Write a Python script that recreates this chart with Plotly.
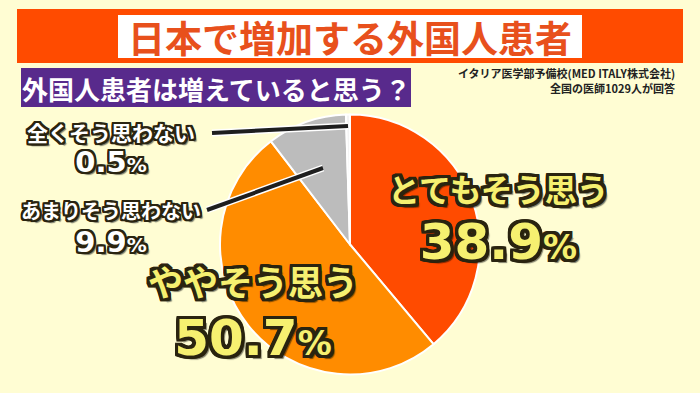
import plotly.graph_objects as go

# ---- data ----
categories = ["とてもそう思う", "ややそう思う", "あまりそう思わない", "全くそう思わない"]
values = [38.9, 50.7, 9.9, 0.5]
value_labels = ["38.9", "50.7", "9.9", "0.5"]
colors = ["#FF4B00", "#FF8C00", "#BCBCBC", "#F4F4F4"]

title_text = "日本で増加する外国人患者"
subtitle_text = "外国人患者は増えていると思う？"
source_lines = ["イタリア医学部予備校(MED ITALY株式会社)", "全国の医師1029人が回答"]

W, H = 700, 393
BG = "#FFFDD3"
FONT = "Noto Sans CJK JP"
NUMFONT = "DejaVu Sans"


def px(x):
    return x / W


def py(y):
    return 1 - y / H


def outline(c, w=2):
    offs = []
    for dx in range(-w, w + 1):
        for dy in range(-w, w + 1):
            if dx == 0 and dy == 0:
                continue
            offs.append(f"{dx}px {dy}px 0px {c}")
    offs.append(f"{w+1}px {w+1}px 1px rgba(0,0,0,0.5)")
    return ", ".join(offs)


fig = go.Figure()
fig.add_trace(go.Pie(
    labels=categories,
    values=values,
    sort=False,
    direction="clockwise",
    rotation=0,
    textinfo="none",
    hoverinfo="label+percent",
    marker=dict(colors=colors, line=dict(color="white", width=2)),
    domain=dict(x=[px(220), px(480)], y=[py(376), py(113)]),
    showlegend=False,
))

shapes = []
# title banner
shapes.append(dict(type="rect", xref="paper", yref="paper",
                   x0=px(17), x1=px(683), y0=py(63), y1=py(9),
                   fillcolor="#FF4B00", line=dict(width=0), layer="below"))
shapes.append(dict(type="rect", xref="paper", yref="paper",
                   x0=px(118), x1=px(582), y0=py(58), y1=py(15),
                   fillcolor="white", line=dict(width=0), layer="below"))
# subtitle box
shapes.append(dict(type="rect", xref="paper", yref="paper",
                   x0=px(21), x1=px(411), y0=py(107), y1=py(68),
                   fillcolor="#582A8C", line=dict(width=0), layer="below"))

# leader lines (white outline + dark core)
leaders = [((212, 133), (348, 126)), ((207, 210), (323, 168))]
for (x0, y0), (x1, y1) in leaders:
    shapes.append(dict(type="line", xref="paper", yref="paper",
                       x0=px(x0), y0=py(y0), x1=px(x1), y1=py(y1),
                       line=dict(color="white", width=7), layer="above"))
    shapes.append(dict(type="line", xref="paper", yref="paper",
                       x0=px(x0), y0=py(y0), x1=px(x1), y1=py(y1),
                       line=dict(color="#1E1E1E", width=4), layer="above"))

ann = []
ann.append(dict(text=title_text, x=px(350), y=py(37), xref="paper", yref="paper",
                showarrow=False, xanchor="center", yanchor="middle",
                font=dict(family=FONT, size=37, color="#E8501C", weight="bold")))
ann.append(dict(text=subtitle_text, x=px(216), y=py(88), xref="paper", yref="paper",
                showarrow=False, xanchor="center", yanchor="middle",
                font=dict(family=FONT, size=26, color="white", weight="bold")))
ann.append(dict(text=source_lines[0], x=px(677), y=py(73), xref="paper", yref="paper",
                showarrow=False, xanchor="right", yanchor="middle",
                font=dict(family=FONT, size=11, color="#222222", weight="bold")))
ann.append(dict(text=source_lines[1], x=px(677), y=py(88), xref="paper", yref="paper",
                showarrow=False, xanchor="right", yanchor="middle",
                font=dict(family=FONT, size=11, color="#222222", weight="bold")))

yellow = "#F6F070"
dark = "#2A2410"
# (category idx, x center, bottom y, base size, label size, number size, % size, colour)
blocks = [
    (0, 498, 273, 44, 32, 50, 34, yellow),
    (1, 253, 369, 45, 35, 50, 34, yellow),
    (3, 111, 181, 24, 21, 29, 20, "white"),
    (2, 111, 261, 25, 20, 29, 20, "white"),
]
for i, x, yb, base, ls, ns, ps, c in blocks:
    txt = (f"<span style='font-size:{ls}px'>{categories[i]}</span><br>"
           f"<span style='font-family:{NUMFONT};font-size:{ns}px'>{value_labels[i]}"
           f"<span style='font-size:{ps}px'>%</span></span>")
    ann.append(dict(text=txt, x=px(x), y=py(yb), xref="paper", yref="paper",
                    showarrow=False, xanchor="center", yanchor="bottom", align="center",
                    font=dict(family=FONT, size=base, color=c, weight="bold",
                              shadow=outline(dark, 3 if ns > 40 else 2))))

fig.update_layout(
    width=W, height=H,
    margin=dict(l=0, r=0, t=0, b=0),
    paper_bgcolor=BG, plot_bgcolor=BG,
    shapes=shapes, annotations=ann,
)
fig.write_html("out.html", config={"displayModeBar": False},
               post_script="document.body.style.margin='0';")
